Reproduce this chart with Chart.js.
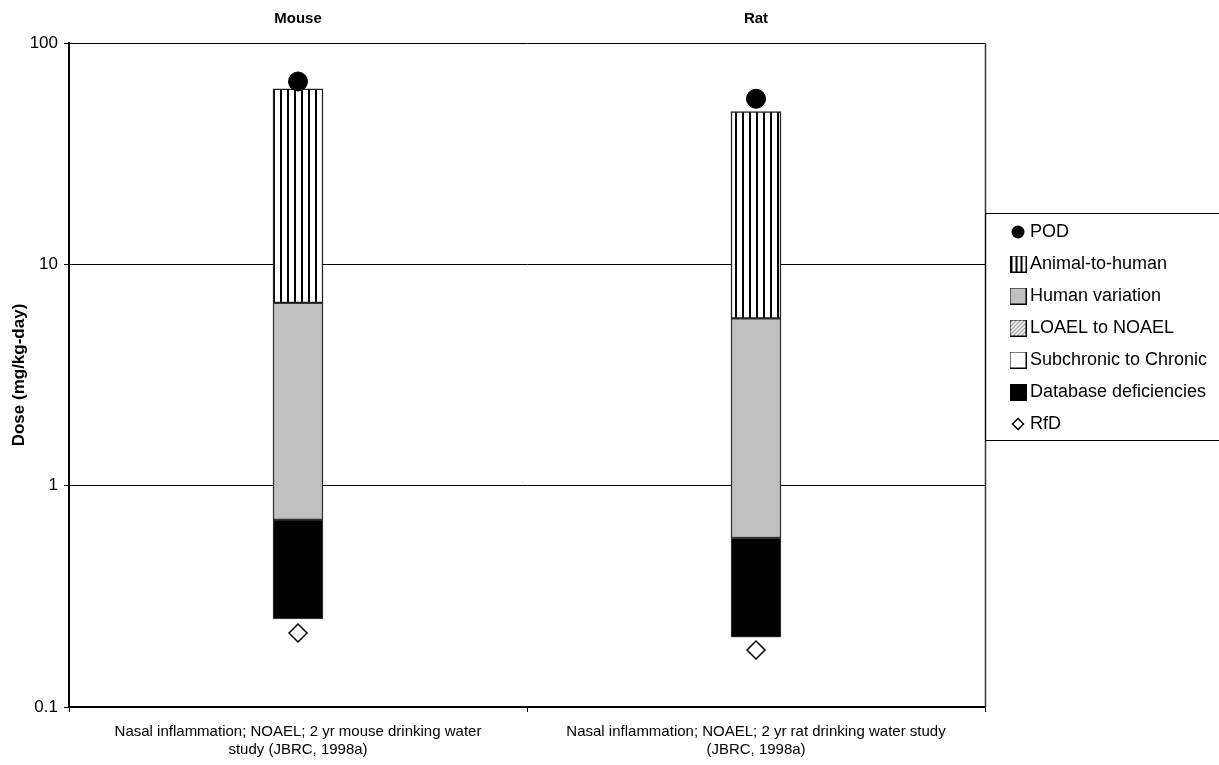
<!DOCTYPE html>
<html>
<head>
<meta charset="utf-8">
<style>
  body { margin: 0; background: #fff; }
</style>
</head>
<body>
<div>
    <canvas id="myChart" width="1219" height="765"></canvas>
</div>

<script src="https://cdn.jsdelivr.net/npm/chart.js@4/dist/chart.umd.min.js"></script>

<script>
    // data
    var categories = [
        ['Nasal inflammation; NOAEL; 2 yr mouse drinking water', 'study (JBRC, 1998a)'],
        ['Nasal inflammation; NOAEL; 2 yr rat drinking water study', '(JBRC, 1998a)']
    ];
    var species = ['Mouse', 'Rat'];
    var pod = [67, 56];
    var animalToHuman = [[6.7, 62], [5.7, 49]];
    var humanVariation = [[0.70, 6.7], [0.58, 5.7]];
    var loaelToNoael = [null, null];
    var subchronic = [null, null];
    var database = [[0.25, 0.70], [0.207, 0.58]];
    var rfd = [0.216, 0.181];
    var yTicks = [0.1, 1, 10, 100];

    var FONT = 'Arial, "Liberation Sans", sans-serif';

    function makeCanvas(w, h, draw) {
        var c = document.createElement('canvas');
        c.width = w;
        c.height = h;
        draw(c.getContext('2d'));
        return c;
    }

    // vertical stripes for the animal-to-human bar
    var stripeTile = makeCanvas(7, 4, function (g) {
        g.fillStyle = '#fff';
        g.fillRect(0, 0, 7, 4);
        g.fillStyle = '#000';
        g.fillRect(0, 0, 2, 4);
    });
    var stripes = document.createElement('canvas').getContext('2d').createPattern(stripeTile, 'repeat');

    var hatchTile = makeCanvas(4, 4, function (g) {
        g.fillStyle = '#fff';
        g.fillRect(0, 0, 4, 4);
        g.strokeStyle = '#555';
        g.lineWidth = 1;
        g.beginPath();
        g.moveTo(0, 4); g.lineTo(4, 0);
        g.moveTo(-1, 1); g.lineTo(1, -1);
        g.moveTo(3, 5); g.lineTo(5, 3);
        g.stroke();
    });
    var hatch = document.createElement('canvas').getContext('2d').createPattern(hatchTile, 'repeat');

    // legend icons
    function boxIcon(fill, drawInside) {
        return makeCanvas(17, 17, function (g) {
            g.fillStyle = fill;
            g.fillRect(0, 0, 17, 17);
            if (drawInside) drawInside(g);
            g.strokeStyle = '#000';
            g.lineWidth = 1;
            g.strokeRect(0.5, 0.5, 16, 16);
        });
    }
    var icons = [
        makeCanvas(14, 14, function (g) {
            g.fillStyle = '#000';
            g.beginPath();
            g.arc(7, 7, 6.5, 0, Math.PI * 2);
            g.fill();
        }),
        boxIcon('#fff', function (g) {
            g.fillStyle = '#000';
            g.fillRect(0, 0, 3, 17);
            g.fillRect(6, 0, 2, 17);
            g.fillRect(11, 0, 2, 17);
        }),
        boxIcon('#c0c0c0'),
        boxIcon(hatch),
        boxIcon('#fff'),
        boxIcon('#000'),
        makeCanvas(14, 14, function (g) {
            g.strokeStyle = '#000';
            g.lineWidth = 1.5;
            g.beginPath();
            g.moveTo(7, 1.5); g.lineTo(12.5, 7); g.lineTo(7, 12.5); g.lineTo(1.5, 7);
            g.closePath();
            g.stroke();
        })
    ];

    // fixes legend size/position and draws its frame and the plot's right border
    var framePlugin = {
        id: 'framePlugin',
        afterInit: function (chart) {
            var lg = chart.legend;
            var origFit = lg.fit;
            lg.fit = function () {
                origFit.call(this);
                this.width = 234;
            };
        },
        afterLayout: function (chart) {
            chart.legend.top = 209;
            chart.legend.left = 1001;
        },
        afterDraw: function (chart) {
            var ctx = chart.ctx;
            var a = chart.chartArea;
            ctx.save();
            ctx.strokeStyle = '#333';
            ctx.lineWidth = 1.5;
            ctx.beginPath();
            ctx.moveTo(a.right + 0.5, a.top);
            ctx.lineTo(a.right + 0.5, a.bottom);
            ctx.stroke();
            ctx.strokeStyle = '#000';
            ctx.lineWidth = 1;
            ctx.strokeRect(a.right + 0.5, 213.5, 260, 227);
            ctx.restore();
        }
    };

    Chart.register(framePlugin);

    var ctx = document.getElementById('myChart');

    new Chart(ctx, {
        type: 'bar',
        data: {
            labels: categories,
            datasets: [
                { type: 'line', label: 'POD', data: pod, showLine: false,
                  pointStyle: 'circle', pointRadius: 9.5, backgroundColor: '#000', borderColor: '#000', borderWidth: 1 },
                { label: 'Animal-to-human', data: animalToHuman, backgroundColor: stripes,
                  borderColor: '#222', borderWidth: 1.5, borderSkipped: false },
                { label: 'Human variation', data: humanVariation, backgroundColor: '#c0c0c0',
                  borderColor: '#333', borderWidth: 1.5, borderSkipped: false },
                { label: 'LOAEL to NOAEL', data: loaelToNoael, backgroundColor: hatch,
                  borderColor: '#000', borderWidth: 1, borderSkipped: false },
                { label: 'Subchronic to Chronic', data: subchronic, backgroundColor: '#fff',
                  borderColor: '#000', borderWidth: 1, borderSkipped: false },
                { label: 'Database deficiencies', data: database, backgroundColor: '#000',
                  borderColor: '#444', borderWidth: 1, borderSkipped: false },
                { type: 'line', label: 'RfD', data: rfd, showLine: false,
                  pointStyle: 'rectRot', pointRadius: 9, backgroundColor: '#fff', borderColor: '#000', borderWidth: 1.5 }
            ]
        },
        options: {
            responsive: false,
            animation: false,
            layout: { padding: 0 },
            datasets: {
                bar: { grouped: false, barThickness: 50 }
            },
            scales: {
                x: {
                    type: 'category',
                    position: 'bottom',
                    offset: true,
                    grid: { offset: true, drawOnChartArea: false, color: '#000', tickLength: 5 },
                    border: { color: '#000', width: 1.5 },
                    ticks: { color: '#000', font: { family: FONT, size: 15, lineHeight: 1.2 }, padding: 11,
                             maxRotation: 0, autoSkip: false },
                    afterFit: function (scale) { scale.height = 58; }
                },
                x2: {
                    type: 'category',
                    position: 'top',
                    labels: species,
                    offset: true,
                    grid: { display: false },
                    border: { display: false },
                    ticks: { color: '#000', font: { family: FONT, size: 15, weight: 'bold' }, padding: 7 },
                    afterFit: function (scale) { scale.height = 43; }
                },
                y: {
                    type: 'logarithmic',
                    min: 0.1,
                    max: 100,
                    afterBuildTicks: function (scale) {
                        scale.ticks = yTicks.map(function (v) { return { value: v }; });
                    },
                    grid: { color: '#000', lineWidth: 1, tickLength: 5 },
                    border: { color: '#000', width: 2 },
                    ticks: {
                        color: '#000', font: { family: FONT, size: 17 }, padding: 6,
                        callback: function (v) { return String(v); }
                    },
                    title: {
                        display: true, text: 'Dose (mg/kg-day)', color: '#000',
                        font: { family: FONT, size: 17, weight: 'bold' },
                        padding: { top: 9, bottom: 0 }
                    },
                    afterFit: function (scale) { scale.width = 69; }
                }
            },
            plugins: {
                tooltip: { enabled: false },
                legend: {
                    position: 'right',
                    align: 'start',
                    labels: {
                        usePointStyle: true,
                        boxWidth: 6,
                        color: '#000',
                        font: { family: FONT, size: 18 },
                        padding: 14,
                        generateLabels: function (chart) {
                            var items = Chart.defaults.plugins.legend.labels.generateLabels(chart);
                            items.forEach(function (it, i) { it.pointStyle = icons[i]; });
                            return items;
                        }
                    }
                }
            }
        }
    });
</script>
</body>
</html>
